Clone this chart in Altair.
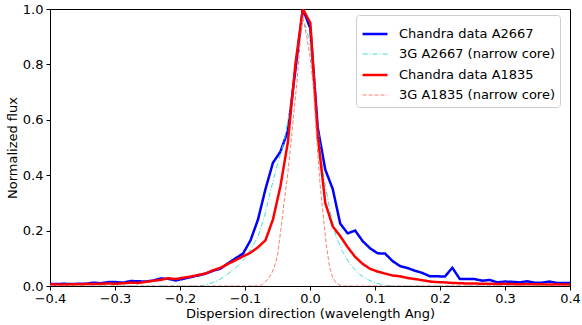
import altair as alt
import pandas as pd

# Chandra data sample positions (Ang)
x_data = [-0.402, -0.3905, -0.379, -0.3675, -0.356, -0.3445, -0.333, -0.3215, -0.310, -0.2985,
          -0.287, -0.2755, -0.264, -0.2525, -0.241, -0.2295, -0.218, -0.2065, -0.195, -0.1835,
          -0.172, -0.1605, -0.149, -0.1375, -0.126, -0.1145, -0.103, -0.0915, -0.080, -0.0685,
          -0.057, -0.0455, -0.034, -0.0225, -0.011, 0.0005, 0.012, 0.0235, 0.035, 0.0465,
          0.058, 0.0695, 0.081, 0.0925, 0.104, 0.1155, 0.127, 0.1385, 0.150, 0.1615,
          0.173, 0.1845, 0.196, 0.2075, 0.219, 0.2305, 0.242, 0.2535, 0.265, 0.2765,
          0.288, 0.2995, 0.311, 0.3225, 0.334, 0.3455, 0.357, 0.3685, 0.380, 0.3915, 0.403]

a2667 = [0.008, 0.007, 0.008, 0.007, 0.008, 0.008, 0.012, 0.010, 0.014, 0.014,
         0.012, 0.018, 0.017, 0.016, 0.020, 0.027, 0.026, 0.020, 0.026, 0.032,
         0.038, 0.045, 0.055, 0.063, 0.082, 0.100, 0.117, 0.165, 0.240, 0.350,
         0.445, 0.485, 0.560, 0.780, 1.000, 0.930, 0.570, 0.420, 0.350, 0.225,
         0.190, 0.200, 0.162, 0.136, 0.118, 0.117, 0.090, 0.072, 0.065, 0.055,
         0.047, 0.035, 0.035, 0.034, 0.066, 0.025, 0.025, 0.025, 0.019, 0.022,
         0.013, 0.016, 0.015, 0.013, 0.017, 0.012, 0.012, 0.016, 0.011, 0.011, 0.011]

a1835 = [0.005, 0.005, 0.005, 0.006, 0.006, 0.007, 0.007, 0.008, 0.009, 0.008,
         0.010, 0.012, 0.011, 0.015, 0.019, 0.022, 0.028, 0.025, 0.030, 0.034,
         0.040, 0.045, 0.057, 0.066, 0.080, 0.093, 0.107, 0.120, 0.140, 0.165,
         0.240, 0.360, 0.520, 0.800, 1.000, 0.950, 0.540, 0.300, 0.215, 0.180,
         0.140, 0.105, 0.080, 0.062, 0.052, 0.045, 0.038, 0.035, 0.029, 0.025,
         0.021, 0.016, 0.014, 0.013, 0.011, 0.010, 0.009, 0.009, 0.008, 0.008,
         0.007, 0.008, 0.007, 0.006, 0.007, 0.006, 0.006, 0.005, 0.006, 0.005, 0.005]

# 3G model (narrow core) curves
x_m2667 = [-0.4, -0.17, -0.16, -0.15, -0.14, -0.13, -0.12, -0.11, -0.10, -0.09, -0.08, -0.07,
           -0.06, -0.05, -0.04, -0.03, -0.02, -0.011, 0.0, 0.01, 0.02, 0.03, 0.04, 0.05,
           0.06, 0.07, 0.08, 0.09, 0.10, 0.11, 0.12, 0.13, 0.4]
m2667 = [0.0, 0.0, 0.004, 0.012, 0.022, 0.037, 0.055, 0.075, 0.100, 0.135, 0.180, 0.250,
         0.350, 0.440, 0.520, 0.650, 0.840, 0.970, 0.880, 0.620, 0.410, 0.280, 0.180, 0.125,
         0.085, 0.056, 0.036, 0.022, 0.012, 0.006, 0.002, 0.0, 0.0]

x_m1835 = [-0.4, -0.08, -0.075, -0.07, -0.065, -0.06, -0.055, -0.05, -0.045, -0.04, -0.035,
           -0.03, -0.025, -0.02, -0.015, -0.011, -0.005, 0.0, 0.005, 0.01, 0.015, 0.02,
           0.025, 0.03, 0.035, 0.04, 0.045, 0.05, 0.4]
m1835 = [0.0, 0.0, 0.003, 0.012, 0.025, 0.040, 0.068, 0.110, 0.200, 0.300, 0.390,
         0.500, 0.620, 0.740, 0.880, 0.970, 0.900, 0.830, 0.720, 0.540, 0.380, 0.260,
         0.150, 0.070, 0.030, 0.012, 0.004, 0.0, 0.0]

names = ["Chandra data A2667", "3G A2667 (narrow core)",
         "Chandra data A1835", "3G A1835 (narrow core)"]
colors = ["#0000ff", "#40e0d0", "#ff0000", "#fa8072"]
dashes = [[1, 0], [5, 2, 1, 2], [1, 0], [4, 2]]
widths = [2.5, 1, 2.5, 1]

frames = [
    pd.DataFrame({"x": x_data, "y": a2667, "series": names[0]}),
    pd.DataFrame({"x": x_m2667, "y": m2667, "series": names[1]}),
    pd.DataFrame({"x": x_data, "y": a1835, "series": names[2]}),
    pd.DataFrame({"x": x_m1835, "y": m1835, "series": names[3]}),
]

xaxis = alt.Axis(values=[-0.4, -0.3, -0.2, -0.1, 0.0, 0.1, 0.2, 0.3, 0.4], format=".1f",
                 title="Dispersion direction (wavelength Ang)", grid=False, tickSize=4,
                 labelOverlap=False, labelFlush=False, labelPadding=2, titlePadding=2)
yaxis = alt.Axis(values=[0.0, 0.2, 0.4, 0.6, 0.8, 1.0], format=".1f",
                 title="Normalized flux", grid=False, tickSize=4,
                 labelOverlap=False, labelFlush=False, labelPadding=3, titlePadding=3)

legend = alt.Legend(orient="none", legendX=306, legendY=6, title=None,
                    symbolType="stroke", symbolSize=620, labelFontSize=13,
                    labelOffset=10, strokeColor="#cccccc", fillColor="white",
                    cornerRadius=3, padding=5, rowPadding=0)

layers = []
for df in frames:
    layers.append(
        alt.Chart(df).mark_line(clip=True).encode(
            x=alt.X("x:Q", scale=alt.Scale(domain=[-0.4, 0.4], nice=False, zero=False), axis=xaxis),
            y=alt.Y("y:Q", scale=alt.Scale(domain=[0, 1], nice=False), axis=yaxis),
            color=alt.Color("series:N", scale=alt.Scale(domain=names, range=colors), legend=legend),
            strokeDash=alt.StrokeDash("series:N", scale=alt.Scale(domain=names, range=dashes)),
            strokeWidth=alt.StrokeWidth("series:N", scale=alt.Scale(type="ordinal", domain=names, range=widths)),
        )
    )

chart = alt.layer(*layers).properties(
    width=520, height=277,
    autosize=alt.AutoSizeParams(type="none"),
    padding={"left": 50, "top": 9, "right": 12, "bottom": 39},
).configure(font="DejaVu Sans").configure_view(
    stroke="black", strokeWidth=1
).configure_axis(
    labelFontSize=13, titleFontSize=13, titleFontWeight="normal",
    labelColor="black", titleColor="black", domainColor="black", tickColor="black",
    domainWidth=1
)

chart.save("out.html", embed_options={"renderer": "svg", "actions": False})
